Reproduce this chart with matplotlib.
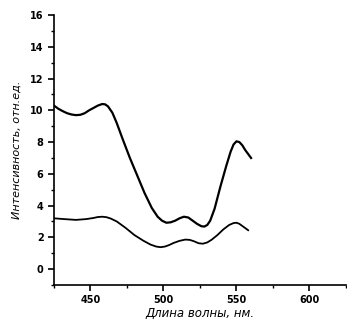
import matplotlib.pyplot as plt
import numpy as np
from matplotlib.ticker import MultipleLocator

# upper curve
x_up = [425, 428, 431, 434, 437, 440, 443, 446, 449, 452, 455, 458, 460, 462, 465,
        468, 472, 477, 482, 487, 492, 496, 499, 502, 505, 508, 511, 514, 517,
        520, 523, 526, 528, 530, 532, 535, 539, 543, 546, 548, 550, 552, 554,
        556, 558, 560]
y_up = [10.3, 10.1, 9.95, 9.82, 9.74, 9.7, 9.72, 9.82, 10.0, 10.15, 10.3, 10.4, 10.38,
        10.25, 9.85, 9.2, 8.2, 7.0, 5.9, 4.8, 3.85, 3.3, 3.05, 2.92, 2.95, 3.05,
        3.2, 3.3, 3.25, 3.05, 2.85, 2.7, 2.68, 2.78, 3.05, 3.8, 5.2, 6.5, 7.4,
        7.85, 8.05, 8.0, 7.8, 7.5, 7.25, 7.0]

# lower curve
x_lo = [425, 432, 440, 447, 452, 455, 458, 461, 464, 468, 474, 480, 486, 491,
        495, 498, 501, 504, 507, 511, 515, 518, 521, 524, 527, 530, 533, 537,
        541, 545, 548, 550, 552, 555, 558]
y_lo = [3.2, 3.15, 3.1, 3.15, 3.22, 3.28, 3.3, 3.27, 3.18, 3.0, 2.6, 2.15, 1.8, 1.55,
        1.42, 1.38, 1.42, 1.52, 1.65, 1.78, 1.86, 1.84, 1.75, 1.63, 1.6, 1.68, 1.85,
        2.15, 2.5, 2.78, 2.9, 2.92, 2.85, 2.65, 2.45]

plt.rcParams.update({
    'font.family': 'DejaVu Sans',
    'font.size': 8,
    'axes.linewidth': 1.2,
    'xtick.direction': 'out',
    'ytick.direction': 'out',
    'lines.solid_joinstyle': 'round',
})

fig = plt.figure(figsize=(3.47, 3.22), dpi=100)
ax = fig.add_axes([0.1556, 0.115, 0.8414, 0.838])

ax.plot(x_up, y_up, color='black', linewidth=1.6)
ax.plot(x_lo, y_lo, color='black', linewidth=1.3)

ax.set_xlim(425, 625)
ax.set_ylim(-1, 16)
ax.xaxis.set_major_locator(MultipleLocator(50))
ax.xaxis.set_minor_locator(MultipleLocator(25))
ax.yaxis.set_major_locator(MultipleLocator(2))
ax.yaxis.set_minor_locator(MultipleLocator(1))
ax.tick_params(which='major', length=4, width=1.2, labelsize=7)
ax.tick_params(which='minor', length=2, width=1)
for lab in ax.get_xticklabels() + ax.get_yticklabels():
    lab.set_fontweight('bold')

ax.spines['top'].set_visible(False)
ax.spines['right'].set_visible(False)

ax.set_xlabel('Длина волны, нм.', fontsize=8.5, style='italic', labelpad=1)
ax.set_ylabel('Интенсивность, отн.ед.', fontsize=8, style='italic', labelpad=6)

plt.savefig('out.png', dpi=100)
